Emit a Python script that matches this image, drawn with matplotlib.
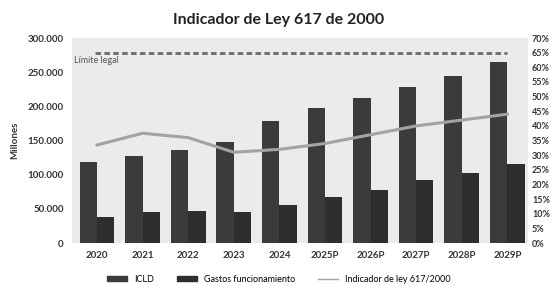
import matplotlib.pyplot as plt
from matplotlib.lines import Line2D
from matplotlib.patches import Patch
import numpy as np

plt.rcParams['font.family'] = ['Lato', 'DejaVu Sans']

years = ["2020", "2021", "2022", "2023", "2024", "2025P", "2026P", "2027P", "2028P", "2029P"]
icld = [118000, 127000, 136000, 148000, 179000, 198000, 213000, 229000, 245000, 265000]
gastos = [38000, 46000, 47000, 46000, 56000, 68000, 78000, 92000, 103000, 115000]
indicador = [33.5, 37.5, 36.0, 31.0, 32.0, 34.0, 37.0, 40.0, 42.0, 44.0]
limite = 65

fig = plt.figure(figsize=(5.58, 2.86), dpi=100)
ax = fig.add_axes([0.129, 0.150, 0.817, 0.717])
ax.set_facecolor('#ebebeb')

x = np.arange(len(years))
w = 0.38
ax.bar(x - w / 2, icld, w, color='#3b3b3b')
ax.bar(x + w / 2, gastos, w, color='#2e2e2e')

ax.set_ylim(0, 300000)
ax.set_xlim(-0.55, 9.45)
ax.set_yticks(range(0, 300001, 50000))
ax.set_yticklabels(["0" if v == 0 else f"{v:,}".replace(",", ".") for v in range(0, 300001, 50000)],
                   fontsize=7, fontweight='bold', color='#333333')
ax.set_xticks(x)
ax.set_xticklabels(years, fontsize=7, fontweight='bold', color='#333333')
ax.tick_params(length=0, pad=6)
ax.set_ylabel("Millones", fontsize=7, fontweight='bold', color='#333333', labelpad=6)
for s in ax.spines.values():
    s.set_visible(False)

ax2 = ax.twinx()
ax2.set_ylim(0, 70)
ax2.set_yticks(range(0, 71, 5))
ax2.set_yticklabels([f"{v}%" for v in range(0, 71, 5)], fontsize=6.5, fontweight='bold', color='#333333')
ax2.tick_params(length=0, pad=3)
for s in ax2.spines.values():
    s.set_visible(False)

ax2.plot(x, indicador, color='#a3a3a3', lw=2.2)
ax2.plot([-0.05, 9.0], [limite, limite], color='#6a6a6a', lw=2, ls=(0, (2, 1.2)))
ax2.text(-0.5, 61.5, "Límite legal", fontsize=6.5, color='#555555')

fig.suptitle("Indicador de Ley 617 de 2000", fontsize=11.5, fontweight='bold', color='#222222', y=0.955)

handles = [Patch(color='#3b3b3b'), Patch(color='#2e2e2e'), Line2D([], [], color='#a3a3a3', lw=1)]
labels = ['ICLD', 'Gastos funcionamiento', 'Indicador de ley 617/2000']
fig.legend(handles, labels, loc='lower center', ncol=3, frameon=False, fontsize=6.5,
           bbox_to_anchor=(0.5, -0.02), handlelength=2.2, handleheight=0.4, columnspacing=2.5)

plt.savefig("out.png", dpi=100)
plt.close("all")
